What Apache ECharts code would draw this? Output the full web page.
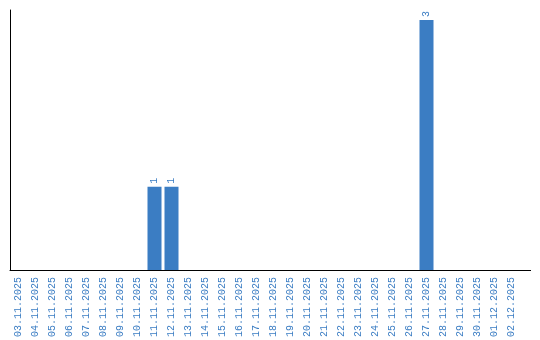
<!DOCTYPE html>
<html><head><meta charset="utf-8">
<script src="https://cdn.jsdelivr.net/npm/echarts@6/dist/echarts.min.js"></script>
<style>html,body{margin:0;padding:0;background:#fff}#c{width:540px;height:340px}</style>
</head><body><div id="c"></div>
<script>
var categories = ['03.11.2025','04.11.2025','05.11.2025','06.11.2025','07.11.2025','08.11.2025','09.11.2025','10.11.2025','11.11.2025','12.11.2025','13.11.2025','14.11.2025','15.11.2025','16.11.2025','17.11.2025','18.11.2025','19.11.2025','20.11.2025','21.11.2025','22.11.2025','23.11.2025','24.11.2025','25.11.2025','26.11.2025','27.11.2025','28.11.2025','29.11.2025','30.11.2025','01.12.2025','02.12.2025'];
var values = [null,null,null,null,null,null,null,null,1,1,null,null,null,null,null,null,null,null,null,null,null,null,null,null,3,null,null,null,null,null];
var blue = '#3b7dc3';
var chart = echarts.init(document.getElementById('c'), null, {renderer:'canvas'});
chart.setOption({
  animation:false,
  grid:{left:10, top:10, width:510, height:260, containLabel:false},
  xAxis:{type:'category', data:categories, boundaryGap:true,
    axisLine:{lineStyle:{color:'#000', width:1}}, axisTick:{show:false},
    axisLabel:{rotate:90, interval:0, color:blue, fontFamily:'Liberation Mono', fontSize:10, margin:7}},
  yAxis:{type:'value', min:0, max:3.12, splitLine:{show:false}, axisTick:{show:false}, axisLabel:{show:false},
    axisLine:{show:true, lineStyle:{color:'#000', width:1}}},
  series:[{type:'bar', data:values, barWidth:14, itemStyle:{color:blue},
    label:{show:true, position:'top', rotate:90, align:'left', verticalAlign:'middle', distance:3,
      color:blue, fontFamily:'Liberation Mono', fontSize:10}}],
  graphic:[{type:'line', shape:{x1:520, y1:270.5, x2:531, y2:270.5}, style:{stroke:'#000', lineWidth:1}}]
});
</script></body></html>
